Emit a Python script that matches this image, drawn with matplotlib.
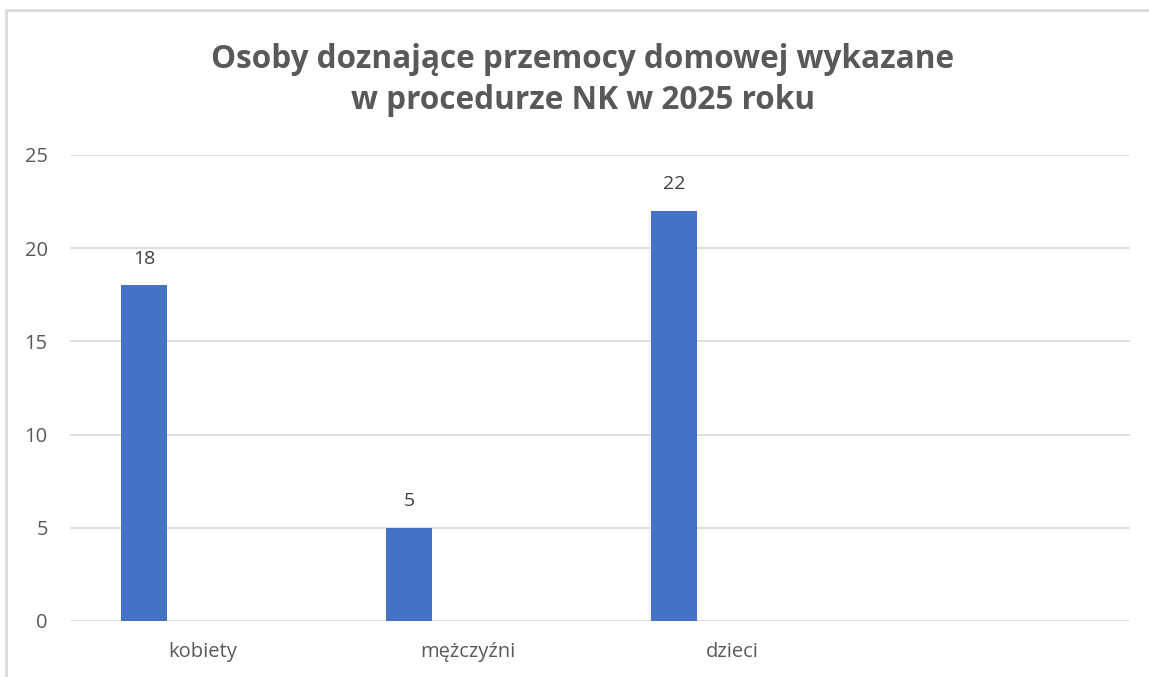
import numpy as np
import matplotlib.pyplot as plt
from matplotlib.patches import Rectangle

categories = ['kobiety', 'mężczyźni', 'dzieci', '']
values = [18, 5, 22, None]
title = 'Osoby doznające przemocy domowej wykazane\nw procedurze NK w 2025 roku'

plt.rcParams['font.family'] = ['Open Sans', 'DejaVu Sans']

fig = plt.figure(figsize=(11.49, 6.77), dpi=100)
ax = fig.add_axes([70 / 1149, 56 / 677, 1060 / 1149, 466 / 677])

# chart frame (partly cut off at right/bottom in the original)
fig.patches.append(Rectangle((6 / 1149, -0.1), 1.1, (667 / 677) + 0.1, transform=fig.transFigure,
                             fill=False, edgecolor='#d9d9d9', linewidth=2))

x = np.arange(len(categories))
offset = -0.221
for i, v in enumerate(values):
    if v is None:
        continue
    ax.bar(x[i] + offset, v, width=0.174, color='#4472c4', zorder=3)
    ax.text(x[i] + offset, v + 0.95, str(v), ha='center', va='bottom', fontsize=14, color='#404040')

ax.set_xlim(-0.5, len(categories) - 0.5)
ax.set_ylim(0, 25)
ax.set_yticks(range(0, 26, 5))
ax.set_xticks(x)
ax.set_xticklabels(categories)
ax.grid(axis='y', color='#d9d9d9', linewidth=1.2, zorder=0)
for s in ax.spines.values():
    s.set_visible(False)
ax.tick_params(axis='both', length=0, labelsize=14.5, colors='#595959')
ax.tick_params(axis='y', pad=16)
ax.tick_params(axis='x', pad=15)

fig.text(583 / 1149, 1 - 80 / 677, title, ha='center', va='center', fontsize=22.7, fontweight='bold',
         color='#595959', linespacing=1.32)

fig.savefig('out.png', dpi=100)
